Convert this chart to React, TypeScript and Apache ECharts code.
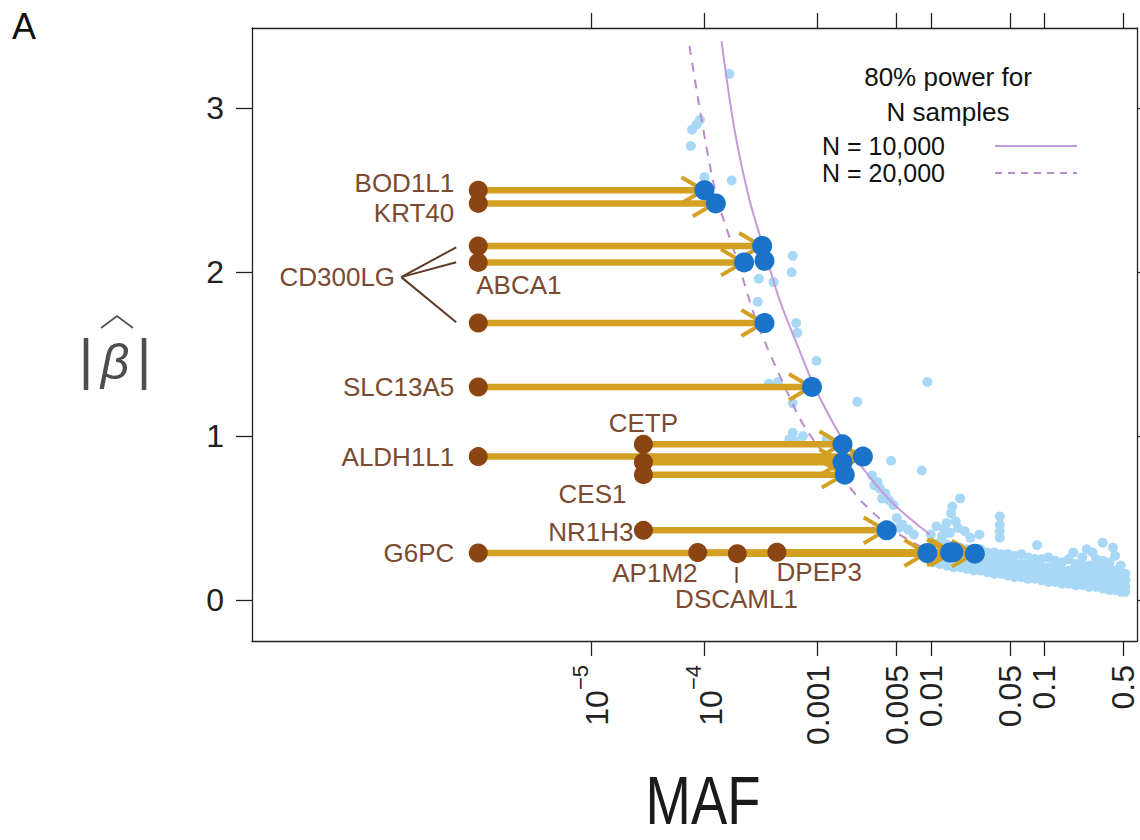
import React, { useEffect, useRef } from 'react';
import * as echarts from 'echarts';

const FONT = "'Liberation Sans', Arial, Helvetica, sans-serif";

// ---- axes (x is log10 of MAF) ----
const xTickMAF = [1e-5, 1e-4, 0.001, 0.005, 0.01, 0.05, 0.1, 0.5];
const xTickLabels = ['{b|10}{sup|\u22125}', '{b|10}{sup|\u22124}', '0.001', '0.005', '0.01', '0.05', '0.1', '0.5'];
const yTicks = [0, 1, 2, 3];

// ---- gene arrows (log10 MAF, |beta|) ----
const arrowGenes = ['BOD1L1', 'KRT40', 'CD300LG', 'ABCA1', 'CD300LG', 'SLC13A5', 'CETP', 'ALDH1L1', 'CES1', 'CES1', 'NR1H3', 'G6PC', 'AP1M2', 'DSCAML1', 'DPEP3'];
const arrowStartLogMAF = [-6.0, -6.0, -6.0, -6.0, -6.0, -6.0, -4.54, -6.0, -4.54, -4.54, -4.54, -6.0, -4.06, -3.71, -3.36];
const arrowEndLogMAF = [-4.0, -3.9, -3.49, -3.65, -3.47, -3.05, -2.78, -2.6, -2.78, -2.76, -2.39, -2.03, -1.83, -1.61, -1.8];
const arrowBeta = [2.5, 2.42, 2.16, 2.06, 1.69, 1.3, 0.95, 0.875, 0.84, 0.765, 0.425, 0.287, 0.29, 0.283, 0.292];
const extraBluePoints = [[-3.47, 2.07]];

// ---- gene labels ----
const labelNames = ['BOD1L1', 'KRT40', 'CD300LG', 'ABCA1', 'SLC13A5', 'CETP', 'ALDH1L1', 'CES1', 'NR1H3', 'G6PC', 'AP1M2', 'DSCAML1', 'DPEP3'];
const labelLogMAF = [-6.212, -6.212, -6.735, -6.018, -6.212, -4.54, -6.212, -4.69, -4.628, -6.212, -4.062, -3.717, -3.363];
const labelBeta = [2.543, 2.36, 1.97, 1.921, 1.299, 1.079, 0.872, 0.646, 0.415, 0.287, 0.165, 0.006, 0.171];
const labelAlign = ['right', 'right', 'right', 'left', 'right', 'center', 'right', 'right', 'right', 'right', 'right', 'center', 'left'];

// connector lines [x1, y1, x2, y2]
const connectors = [
  [-6.681, 1.97, -6.195, 2.152],
  [-6.681, 1.97, -6.195, 2.061],
  [-6.681, 1.97, -6.195, 1.695],
  [-3.717, 0.201, -3.717, 0.104],
];

// ---- 80% power curves ----
const powerN10kLogMAF = [-3.85, -3.735, -3.602, -3.469, -3.336, -3.159, -3.027, -2.805, -2.584, -2.319, -2.009];
const powerN10kBeta = [3.41, 2.87, 2.44, 2.13, 1.83, 1.52, 1.3, 1.01, 0.79, 0.58, 0.4];
const powerN20kLogMAF = [-4.133, -3.91, -3.7, -3.54, -3.25, -3.1, -2.74, -2.61, -2.32, -2.02];
const powerN20kBeta = [3.38, 2.51, 2.05, 1.7, 1.24, 1.04, 0.71, 0.6, 0.42, 0.3];

// ---- all variants (light blue background) [log10 MAF, |beta|] ----
const allVariants = [
  [-3.78, 3.21], [-4.11, 2.87], [-4.07, 2.9], [-4.04, 2.93], [-4.12, 2.77], [-3.76, 2.56], [-4.0, 2.58],
  [-3.22, 2.1], [-3.23, 2.0], [-3.52, 1.96], [-3.39, 1.94], [-3.53, 1.82], [-3.19, 1.69], [-3.18, 1.63],
  [-3.01, 1.46], [-3.43, 1.32], [-3.35, 1.33], [-2.65, 1.21], [-3.22, 1.2], [-3.22, 1.02], [-3.13, 1.0],
  [-3.25, 0.98], [-3.2, 0.97], [-2.92, 0.98], [-2.03, 1.33], [-2.35, 0.85], [-2.08, 0.79],
  [-2.52, 0.76], [-2.47, 0.72], [-2.45, 0.68], [-2.4, 0.65], [-2.37, 0.61], [-2.33, 0.58], [-2.43, 0.62], [-2.5, 0.7],
  [-2.3, 0.5], [-2.25, 0.46], [-2.2, 0.43], [-2.15, 0.4], [-2.28, 0.44],
  [-1.74, 0.62], [-1.81, 0.57], [-1.82, 0.53], [-1.78, 0.48],
  [-1.95, 0.45], [-1.88, 0.43], [-1.83, 0.41], [-1.9, 0.39], [-2.0, 0.4], [-1.86, 0.47], [-1.76, 0.44], [-1.7, 0.42], [-1.65, 0.38],
  [-1.39, 0.51], [-1.39, 0.46], [-1.39, 0.42], [-1.39, 0.38], [-1.57, 0.4], [-1.06, 0.335],
  [-0.48, 0.35], [-0.39, 0.32], [-0.74, 0.29], [-0.57, 0.29], [-0.62, 0.31],
  [-1.98, 0.23], [-1.98, 0.28], [-1.98, 0.33],
  [-1.92, 0.22], [-1.92, 0.26], [-1.92, 0.31], [-1.92, 0.35],
  [-1.86, 0.21], [-1.86, 0.25], [-1.86, 0.3], [-1.86, 0.34],
  [-1.8, 0.2], [-1.8, 0.24], [-1.8, 0.29], [-1.8, 0.33],
  [-1.74, 0.2], [-1.74, 0.24], [-1.74, 0.28], [-1.74, 0.32],
  [-1.68, 0.19], [-1.68, 0.23], [-1.68, 0.27], [-1.68, 0.31],
  [-1.62, 0.18], [-1.62, 0.22], [-1.62, 0.26], [-1.62, 0.3],
  [-1.56, 0.18], [-1.56, 0.22], [-1.56, 0.26], [-1.56, 0.31],
  [-1.5, 0.17], [-1.5, 0.21], [-1.5, 0.25], [-1.5, 0.29],
  [-1.44, 0.16], [-1.44, 0.2], [-1.44, 0.24], [-1.44, 0.29],
  [-1.38, 0.16], [-1.38, 0.2], [-1.38, 0.24], [-1.38, 0.28],
  [-1.32, 0.15], [-1.32, 0.19], [-1.32, 0.23], [-1.32, 0.28],
  [-1.26, 0.14], [-1.26, 0.18], [-1.26, 0.23], [-1.26, 0.27],
  [-1.2, 0.14], [-1.2, 0.18], [-1.2, 0.22], [-1.2, 0.28],
  [-1.14, 0.13], [-1.14, 0.17], [-1.14, 0.21], [-1.14, 0.26],
  [-1.08, 0.13], [-1.08, 0.17], [-1.08, 0.21], [-1.08, 0.25],
  [-1.02, 0.12], [-1.02, 0.16], [-1.02, 0.2], [-1.02, 0.25],
  [-0.96, 0.11], [-0.96, 0.15], [-0.96, 0.2], [-0.96, 0.26],
  [-0.9, 0.11], [-0.9, 0.15], [-0.9, 0.19], [-0.9, 0.24],
  [-0.84, 0.1], [-0.84, 0.14], [-0.84, 0.18], [-0.84, 0.23],
  [-0.78, 0.1], [-0.78, 0.14], [-0.78, 0.18], [-0.78, 0.25],
  [-0.72, 0.09], [-0.72, 0.13], [-0.72, 0.17], [-0.72, 0.22],
  [-0.66, 0.09], [-0.66, 0.13], [-0.66, 0.17], [-0.66, 0.21], [-0.66, 0.26],
  [-0.6, 0.08], [-0.6, 0.12], [-0.6, 0.16], [-0.6, 0.21],
  [-0.54, 0.08], [-0.54, 0.12], [-0.54, 0.16], [-0.54, 0.2], [-0.54, 0.25],
  [-0.48, 0.07], [-0.48, 0.11], [-0.48, 0.15], [-0.48, 0.2], [-0.48, 0.24],
  [-0.42, 0.06], [-0.42, 0.1], [-0.42, 0.14], [-0.42, 0.19], [-0.42, 0.23],
  [-0.37, 0.06], [-0.37, 0.1], [-0.37, 0.14], [-0.37, 0.18], [-0.37, 0.27],
  [-0.32, 0.05], [-0.32, 0.09], [-0.32, 0.13], [-0.32, 0.17], [-0.32, 0.21],
  [-0.28, 0.05], [-0.28, 0.08], [-0.28, 0.12], [-0.28, 0.16],
];

const GOLD = '#d4a021';
const BROWN = '#8b4513';
const BLUE = '#1a72c9';
const LIGHT = '#a9d8f6';
const PURPLE = '#c59ad6';
const LABEL = '#7b4a30';
const AXIS = '#222222';

const xTickVals = xTickMAF.map((m) => Math.log10(m));
const xLabelFor = (v: number) => {
  const i = xTickVals.findIndex((t) => Math.abs(t - v) < 1e-6);
  return i >= 0 ? xTickLabels[i] : '';
};

function buildOption() {
  const axisLineStyle = { color: AXIS, width: 1.3 };
  return {
    animation: false,
    backgroundColor: '#ffffff',
    textStyle: { fontFamily: FONT },
    grid: { left: 252, right: 3, top: 28, bottom: 199, containLabel: false, outerBoundsMode: 'none' },
    xAxis: [
      {
        type: 'value', position: 'bottom', min: -8, max: -0.177,
        axisLine: { show: true, onZero: false, lineStyle: axisLineStyle },
        axisTick: { show: true, inside: false, length: 15, customValues: xTickVals, lineStyle: axisLineStyle },
        axisLabel: {
          show: true, customValues: xTickVals, rotate: 90, margin: 24,
          fontSize: 32, color: AXIS, fontFamily: FONT,
          formatter: (v: number) => xLabelFor(v),
          rich: {
            b: { fontSize: 32, color: AXIS, fontFamily: FONT, verticalAlign: 'bottom', lineHeight: 44 },
            sup: { fontSize: 22, color: AXIS, fontFamily: FONT, verticalAlign: 'top', lineHeight: 44 },
          },
        },
        splitLine: { show: false },
      },
      {
        type: 'value', position: 'top', min: -8, max: -0.177,
        axisLine: { show: true, onZero: false, lineStyle: axisLineStyle },
        axisTick: { show: true, inside: false, length: 15, customValues: xTickVals, lineStyle: axisLineStyle },
        axisLabel: { show: false },
        splitLine: { show: false },
      },
    ],
    yAxis: [
      {
        type: 'value', position: 'left', min: -0.25, max: 3.49,
        axisLine: { show: true, onZero: false, lineStyle: axisLineStyle },
        axisTick: { show: true, inside: false, length: 16, customValues: yTicks, lineStyle: axisLineStyle },
        axisLabel: { show: true, customValues: yTicks, margin: 28, fontSize: 32, color: AXIS, fontFamily: FONT },
        splitLine: { show: false },
      },
      {
        type: 'value', position: 'right', min: -0.25, max: 3.49,
        axisLine: { show: true, onZero: false, lineStyle: axisLineStyle },
        axisTick: { show: true, inside: false, length: 15, customValues: yTicks, lineStyle: axisLineStyle },
        axisLabel: { show: false },
        splitLine: { show: false },
      },
    ],
    series: [
      {
        name: 'all variants', type: 'scatter', z: 1, symbol: 'circle', symbolSize: 10,
        itemStyle: { color: LIGHT, opacity: 1 },
        data: allVariants,
      },
      {
        name: 'N = 10,000', type: 'line', z: 2, showSymbol: false, smooth: 0.3,
        lineStyle: { color: PURPLE, width: 2 },
        data: powerN10kLogMAF.map((x, i) => [x, powerN10kBeta[i]]),
      },
      {
        name: 'N = 20,000', type: 'line', z: 2, showSymbol: false, smooth: 0.3,
        lineStyle: { color: '#b98bcb', width: 2, type: [9, 8] },
        data: powerN20kLogMAF.map((x, i) => [x, powerN20kBeta[i]]),
      },
      {
        name: 'arrows', type: 'custom', z: 3,
        encode: { x: [0, 1], y: 2 },
        data: arrowStartLogMAF.map((s, i) => [s, arrowEndLogMAF[i], arrowBeta[i]]),
        renderItem: (params: any, api: any) => {
          const s = api.coord([api.value(0), api.value(2)]);
          const e = api.coord([api.value(1), api.value(2)]);
          return {
            type: 'group',
            children: [
              { type: 'line', shape: { x1: s[0], y1: s[1], x2: e[0] - 3, y2: e[1] }, style: { stroke: GOLD, lineWidth: 6.5 } },
              {
                type: 'polyline',
                shape: { points: [[e[0] - 23, e[1] - 13], [e[0] - 1, e[1]], [e[0] - 23, e[1] + 13]] },
                style: { stroke: GOLD, lineWidth: 4, fill: null },
              },
            ],
          };
        },
      },
      {
        name: 'connectors', type: 'custom', z: 3,
        encode: { x: [0, 2], y: [1, 3] },
        data: connectors,
        renderItem: (params: any, api: any) => {
          const a = api.coord([api.value(0), api.value(1)]);
          const b = api.coord([api.value(2), api.value(3)]);
          return { type: 'line', shape: { x1: a[0], y1: a[1], x2: b[0], y2: b[1] }, style: { stroke: '#5e3b26', lineWidth: 2 } };
        },
      },
      {
        name: 'start', type: 'scatter', z: 4, symbol: 'circle', symbolSize: 19,
        itemStyle: { color: BROWN, opacity: 1 },
        data: arrowStartLogMAF.map((x, i) => [x, arrowBeta[i]]),
      },
      {
        name: 'end', type: 'scatter', z: 5, symbol: 'circle', symbolSize: 20,
        itemStyle: { color: BLUE, opacity: 1 },
        data: [...arrowEndLogMAF.map((x, i) => [x, arrowBeta[i]]), ...extraBluePoints],
      },
      {
        name: 'labels', type: 'custom', z: 6,
        encode: { x: 0, y: 1 },
        data: labelLogMAF.map((x, i) => [x, labelBeta[i]]),
        renderItem: (params: any, api: any) => {
          const p = api.coord([api.value(0), api.value(1)]);
          const i = params.dataIndex;
          return {
            type: 'text', x: p[0], y: p[1],
            style: {
              text: labelNames[i], fontSize: 26, fontFamily: FONT, fill: LABEL,
              align: labelAlign[i], verticalAlign: 'middle',
            },
          };
        },
      },
    ],
    graphic: [
      { type: 'text', x: 12, y: 8, style: { text: 'A', fontSize: 36, fontFamily: FONT, fill: '#111', align: 'left', verticalAlign: 'top' } },
      { type: 'text', x: 86, y: 358, style: { text: '|', fontSize: 56, fontFamily: FONT, fill: '#4d4d4d', align: 'center', verticalAlign: 'middle' } },
      { type: 'text', x: 115, y: 362, style: { text: '\u03B2', fontSize: 50, fontStyle: 'italic', fontFamily: FONT, fill: '#4d4d4d', align: 'center', verticalAlign: 'middle' } },
      { type: 'text', x: 144, y: 358, style: { text: '|', fontSize: 56, fontFamily: FONT, fill: '#4d4d4d', align: 'center', verticalAlign: 'middle' } },
      { type: 'polyline', shape: { points: [[101, 328], [117, 316], [133, 328]] }, style: { stroke: '#4d4d4d', lineWidth: 1.6, fill: null } },
      { type: 'text', x: 703, y: 800, scaleX: 0.8, style: { text: 'MAF', fontSize: 68, fontFamily: FONT, fill: '#1a1a1a', align: 'center', verticalAlign: 'middle' } },
      { type: 'text', x: 948, y: 77, style: { text: '80% power for', fontSize: 26, fontFamily: FONT, fill: '#111', align: 'center', verticalAlign: 'middle' } },
      { type: 'text', x: 948, y: 112, style: { text: 'N samples', fontSize: 26, fontFamily: FONT, fill: '#111', align: 'center', verticalAlign: 'middle' } },
      { type: 'text', x: 822, y: 146, style: { text: 'N = 10,000', fontSize: 25, fontFamily: FONT, fill: '#111', align: 'left', verticalAlign: 'middle' } },
      { type: 'text', x: 822, y: 173, style: { text: 'N = 20,000', fontSize: 25, fontFamily: FONT, fill: '#111', align: 'left', verticalAlign: 'middle' } },
      { type: 'line', shape: { x1: 995, y1: 146, x2: 1077, y2: 146 }, style: { stroke: PURPLE, lineWidth: 2 } },
      { type: 'line', shape: { x1: 995, y1: 173, x2: 1077, y2: 173 }, style: { stroke: '#b98bcb', lineWidth: 2, lineDash: [7, 6] } },
    ],
  };
}

export default function App() {
  const ref = useRef<HTMLDivElement>(null);
  useEffect(() => {
    if (!ref.current) return;
    const chart = echarts.init(ref.current, null, { renderer: 'svg' });
    chart.setOption(buildOption() as any);
    return () => chart.dispose();
  }, []);
  return (
    <div
      ref={ref}
      style={{ position: 'fixed', left: 0, top: 0, width: 1140, height: 840, background: '#ffffff' }}
    />
  );
}
